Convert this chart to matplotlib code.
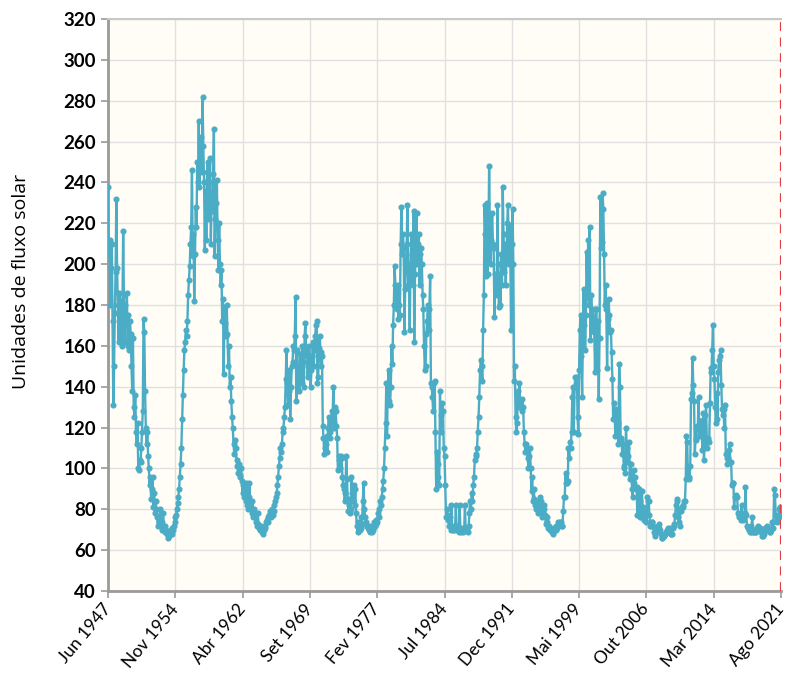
import pandas as pd
import matplotlib
matplotlib.use('Agg')
import matplotlib.pyplot as plt

plt.rcParams['font.family'] = ['Lato', 'DejaVu Sans']

# monthly solar flux, Jun 1947 .. Aug 2021
flux = [
    238, 205, 212, 180, 198, 210, 172,                               # 1947 (Jun-Dec)
    131, 150, 176, 196, 232, 198, 180, 162, 186, 170, 182, 160,      # 1948
    178, 216, 185, 162, 180, 170, 186, 160, 175, 158, 172, 166,      # 1949
    150, 138, 164, 130, 125, 136, 118, 112, 122, 100, 99, 104,       # 1950
    103, 110, 118, 128, 173, 167, 138, 120, 112, 118, 106, 100,      # 1951
    92, 96, 85, 90, 96, 81, 88, 78, 84, 80, 76, 72,                  # 1952
    74, 76, 80, 72, 70, 74, 78, 71, 69, 72, 70, 68,                  # 1953
    66, 68, 67, 69, 70, 68, 71, 70, 72, 74, 76, 77,                  # 1954
    80, 83, 86, 90, 96, 102, 110, 124, 136, 148, 158, 162,           # 1955
    168, 165, 172, 185, 192, 199, 210, 218, 246, 204, 215, 182,      # 1956
    205, 228, 218, 250, 240, 270, 238, 248, 262, 245, 282, 258,      # 1957
    240, 207, 236, 212, 245, 250, 222, 240, 252, 210, 232, 226,      # 1958
    244, 266, 204, 222, 230, 241, 212, 197, 220, 200, 190, 197,      # 1959
    172, 183, 146, 179, 171, 165, 180, 166, 150, 160, 140, 145,      # 1960
    133, 125, 120, 112, 107, 114, 110, 104, 101, 98, 102, 97,        # 1961
    96, 100, 94, 88, 92, 86, 90, 84, 93, 82, 80, 86,                 # 1962
    93, 82, 80, 78, 84, 76, 80, 78, 76, 74, 72, 78,                  # 1963
    73, 71, 70, 72, 70, 69, 68, 70, 72, 71, 74, 75,                  # 1964
    76, 74, 77, 79, 76, 78, 80, 77, 79, 82, 84, 86,                  # 1965
    88, 92, 96, 101, 105, 110, 108, 112, 118, 120, 125, 130,         # 1966
    144, 158, 142, 131, 138, 148, 124, 140, 150, 152, 160, 158,      # 1967
    165, 184, 133, 158, 145, 149, 138, 156, 150, 142, 160, 152,      # 1968
    140, 165, 171, 158, 155, 145, 150, 160, 154, 140, 148, 155,      # 1969
    162, 150, 158, 165, 170, 172, 142, 145, 159, 165, 157, 150,      # 1970
    155, 121, 115, 107, 110, 112, 116, 108, 120, 125, 118, 115,      # 1971
    122, 128, 125, 140, 120, 130, 128, 121, 115, 99, 104, 106,       # 1972
    100, 106, 105, 96, 92, 90, 84, 88, 106, 95, 85, 79,              # 1973
    82, 78, 80, 96, 88, 84, 92, 82, 90, 78, 72, 69,                  # 1974
    74, 72, 70, 71, 76, 73, 84, 93, 80, 76, 74, 72,                  # 1975
    72, 71, 70, 69, 72, 70, 69, 71, 70, 74, 72, 73,                  # 1976
    75, 74, 78, 76, 80, 84, 82, 86, 90, 94, 100, 110,                # 1977
    122, 142, 116, 140, 148, 133, 131, 140, 160, 151, 170, 180,      # 1978
    199, 190, 185, 178, 190, 173, 180, 175, 210, 228, 205, 215,      # 1979
    208, 167, 188, 200, 210, 229, 190, 195, 168, 200, 215, 205,      # 1980
    190, 226, 162, 195, 205, 225, 200, 210, 215, 190, 205, 208,      # 1981
    200, 185, 178, 160, 148, 150, 166, 172, 180, 168, 178, 194,      # 1982
    142, 140, 135, 128, 142, 143, 118, 90, 108, 102, 96, 92,         # 1983
    138, 118, 126, 132, 128, 110, 106, 92, 76, 80, 77, 75,           # 1984
    72, 76, 70, 82, 71, 70, 72, 70, 71, 82, 70, 72,                  # 1985
    70, 69, 82, 71, 69, 70, 69, 71, 70, 82, 70, 71,                  # 1986
    70, 69, 72, 78, 84, 80, 88, 84, 92, 96, 104, 106,                # 1987
    107, 110, 118, 125, 135, 148, 153, 150, 143, 168, 185, 229,      # 1988
    215, 194, 230, 195, 205, 248, 215, 200, 212, 225, 210, 208,      # 1989
    174, 195, 190, 185, 229, 200, 179, 195, 180, 205, 190, 238,      # 1990
    215, 196, 210, 190, 205, 220, 229, 200, 219, 205, 168, 210,      # 1991
    227, 200, 143, 150, 125, 118, 122, 138, 130, 142, 132, 130,      # 1992
    128, 134, 130, 118, 112, 108, 112, 110, 105, 100, 106, 110,      # 1993
    100, 89, 96, 84, 90, 85, 82, 80, 84, 78, 80, 82,                 # 1994
    86, 84, 80, 76, 78, 80, 82, 77, 73, 76, 74, 71,                  # 1995
    72, 71, 70, 70, 69, 68, 70, 71, 70, 72, 70, 71,                  # 1996
    74, 73, 73, 74, 74, 72, 72, 79, 86, 86, 98, 93,                  # 1997
    93, 94, 110, 105, 113, 110, 118, 135, 140, 118, 140, 145,        # 1998
    140, 145, 125, 117, 148, 168, 175, 155, 135, 165, 188, 170,      # 1999
    158, 175, 206, 184, 212, 180, 218, 163, 185, 168, 178, 173,      # 2000
    167, 147, 178, 178, 148, 172, 134, 164, 233, 208, 211, 235,      # 2001
    227, 205, 180, 190, 178, 149, 173, 183, 175, 167, 168, 157,      # 2002
    144, 124, 132, 126, 116, 129, 127, 122, 112, 151, 140, 114,      # 2003
    115, 107, 112, 101, 100, 98, 120, 110, 103, 106, 113, 95,        # 2004
    102, 98, 90, 86, 99, 93, 96, 90, 91, 77, 86, 90,                 # 2005
    84, 76, 76, 89, 81, 77, 75, 79, 77, 74, 86, 84,                  # 2006
    84, 77, 72, 72, 74, 74, 72, 69, 67, 68, 69, 70,                  # 2007
    72, 71, 73, 70, 68, 66, 66, 67, 67, 68, 68, 69,                  # 2008
    70, 71, 69, 69, 71, 68, 68, 68, 71, 72, 73, 77,                  # 2009
    82, 85, 84, 76, 74, 72, 80, 79, 81, 81, 82, 84,                  # 2010
    84, 95, 116, 113, 96, 96, 95, 101, 134, 137, 154, 141,           # 2011
    133, 107, 115, 114, 121, 120, 135, 116, 123, 123, 121, 109,      # 2012
    127, 104, 111, 126, 131, 110, 115, 114, 113, 132, 149, 147,      # 2013
    158, 170, 150, 144, 130, 122, 137, 124, 147, 153, 155, 158,      # 2014
    141, 129, 126, 129, 120, 131, 107, 105, 102, 105, 109, 112,      # 2015
    103, 103, 92, 93, 93, 81, 86, 86, 87, 86, 78, 76,                # 2016
    77, 77, 75, 82, 76, 75, 77, 78, 91, 77, 72, 71,                  # 2017
    70, 71, 69, 69, 72, 76, 69, 69, 69, 70, 69, 71,                  # 2018
    72, 71, 71, 71, 70, 69, 67, 67, 68, 70, 71, 71,                  # 2019
    72, 71, 70, 70, 69, 69, 70, 74, 71, 74, 90, 87,                  # 2020
    77, 74, 75, 76, 76, 80, 81, 78,                                  # 2021 (Jan-Aug)
]

tick_labels = ['Jun 1947', 'Nov 1954', 'Abr 1962', 'Set 1969', 'Fev 1977',
               'Jul 1984', 'Dec 1991', 'Mai 1999', 'Out 2006', 'Mar 2014',
               'Ago 2021']
y_ticks = list(range(40, 321, 20))

months = pd.date_range('1947-06-01', periods=len(flux), freq='MS')

fig = plt.figure(figsize=(7.91, 6.75), dpi=100)
ax = fig.add_axes([108/791, 1 - 591/675, (781 - 108)/791, (591 - 19)/675])
ax.set_facecolor('#fffdf5')

ax.plot(months, flux, color='#4bacc6', lw=1.7, marker='o', ms=3.4, zorder=3)

ax.set_xlim(months[0], months[-1])
ax.set_ylim(40, 320)
ax.set_yticks(y_ticks)
ax.set_yticklabels([str(v) for v in y_ticks], fontweight='bold', fontsize=13.5)
ax.set_xticks(months[::89])
ax.set_xticklabels(tick_labels, rotation=50, ha='right', va='center',
                   rotation_mode='anchor', fontsize=12.5)
ax.tick_params(axis='both', colors='#999999', length=5, width=1.2, labelcolor='black')
ax.tick_params(axis='x', pad=6)

ax.grid(color='#e0e0e0', lw=1)
ax.set_axisbelow(True)
for s in ['left', 'bottom']:
    ax.spines[s].set_color('#9a9a9a')
    ax.spines[s].set_linewidth(2)
ax.spines['top'].set_color('#c8c8c8')
ax.spines['top'].set_linewidth(1.5)
ax.spines['right'].set_visible(False)

# red dashed marker at the last month
ax.axvline(months[-1], color='#e04040', ls=(0, (4, 3)), lw=1.6, zorder=4)

ax.set_ylabel('Unidades de fluxo solar', fontsize=14, family=['Open Sans', 'DejaVu Sans'])
ax.yaxis.set_label_coords(-0.116, 0.542)

fig.savefig('out.png')
